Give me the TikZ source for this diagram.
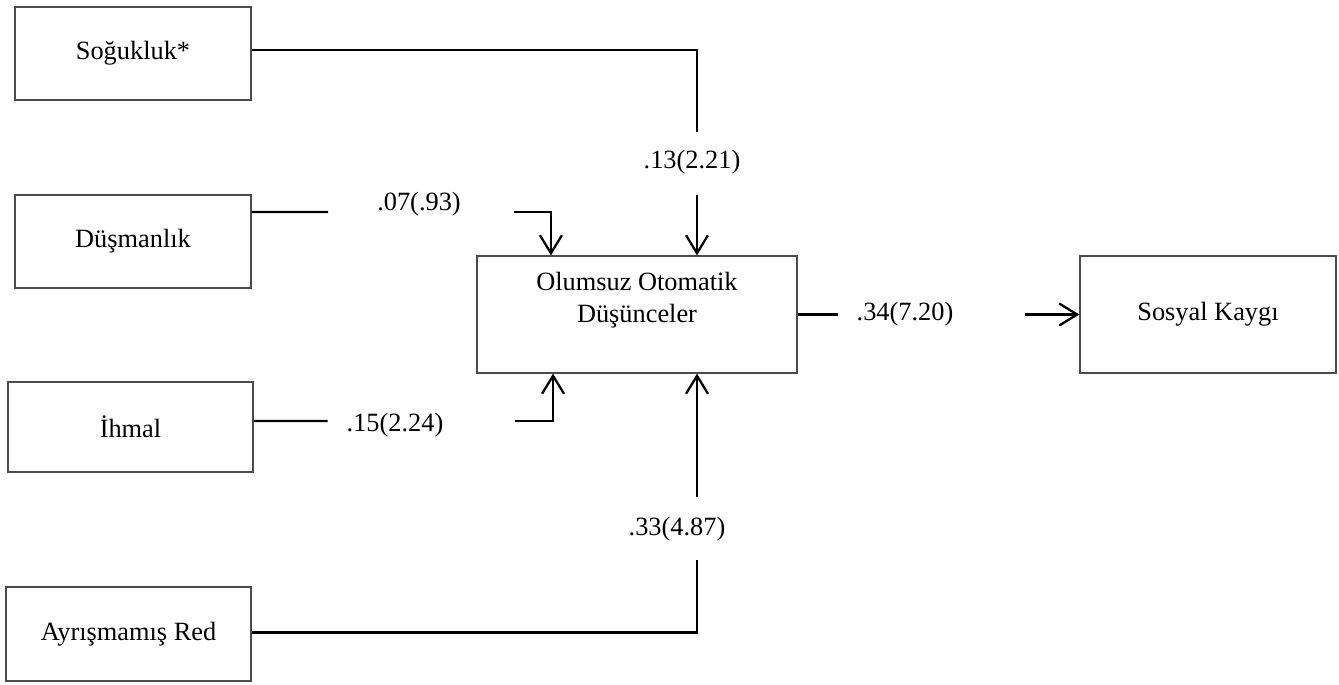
\documentclass[tikz,border=0pt]{standalone}
\usepackage{fontspec}
\setmainfont{Liberation Serif}
\usetikzlibrary{calc, arrows.meta}

\begin{document}
\begin{tikzpicture}[x=0.02cm, y=-0.02cm,
    box/.style={draw=black!70, line width=0.7pt, inner sep=0pt, font=\fontsize{15}{18}\selectfont},
    coef/.style={inner sep=0pt, font=\fontsize{15}{18}\selectfont},
    wire/.style={line width=1.3pt},
    arr/.style={wire, -{Straight Barb[length=0.36cm, width=0.44cm]}}]
            \useasboundingbox (0,0) rectangle (1339,684);
            % boxes
            \node[box, minimum width=4.72cm, minimum height=1.86cm] (sog) at (133,53.5) {Soğukluk*};
            \node[box, minimum width=4.72cm, minimum height=1.86cm] (dus) at (133,241.5) {Düşmanlık};
            \node[box, minimum width=4.9cm, minimum height=1.8cm] (ihm) at (130.5,427) {İhmal};
            \node[box, minimum width=4.9cm, minimum height=1.88cm] (ayr) at (128.5,634) {Ayrışmamış Red};
            \node[box, minimum width=6.4cm, minimum height=2.34cm, align=center,
                  text height=1.32cm, text depth=1.02cm] (ood) at (637,314.5) {Olumsuz Otomatik\\Düşünceler};
            \node[box, minimum width=5.12cm, minimum height=2.34cm] (sos) at (1208,314.5) {Sosyal Kaygı};
            % coefficients
            \node[coef] (c13) at (692,162) {.13(2.21)};
            \node[coef] (c07) at (419,204) {.07(.93)};
            \node[coef] (c15) at (395,425) {.15(2.24)};
            \node[coef] (c33) at (677,529) {.33(4.87)};
            \node[coef] (c34) at (905,314) {.34(7.20)};
            % ends of the gaps round the coefficients
            \coordinate (s1) at (697,132); \coordinate (s2) at (697,195);
            \coordinate (d1) at (328,212); \coordinate (d2) at (514,212);
            \coordinate (i1) at (327.5,421); \coordinate (i2) at (515,421);
            \coordinate (a1) at (697,560); \coordinate (a2) at (697,497);
            \coordinate (o1) at (837.5,314.5); \coordinate (o2) at (1025,314.5);
            % paths
            \draw[wire] ([yshift=0.07cm]sog.east) -| (s1);
            \draw[arr] (s2) -- (s2 |- ood.north);
            \draw[wire] ([yshift=0.59cm]dus.east) -- (d1);
            \draw[arr] (d2) -| ($(ood.north west)+(74.5,0)$);
            \draw[wire] ([yshift=0.12cm]ihm.east) -- (i1);
            \draw[arr] (i2) -| ($(ood.south west)+(76.6,0)$);
            \draw[wire] ([yshift=0.03cm]ayr.east) -| (a1);
            \draw[arr] (a2) -- (a2 |- ood.south);
            \draw[wire] (ood.east) -- (o1);
            \draw[arr] (o2) -- (sos.west);
\end{tikzpicture}
\end{document}
